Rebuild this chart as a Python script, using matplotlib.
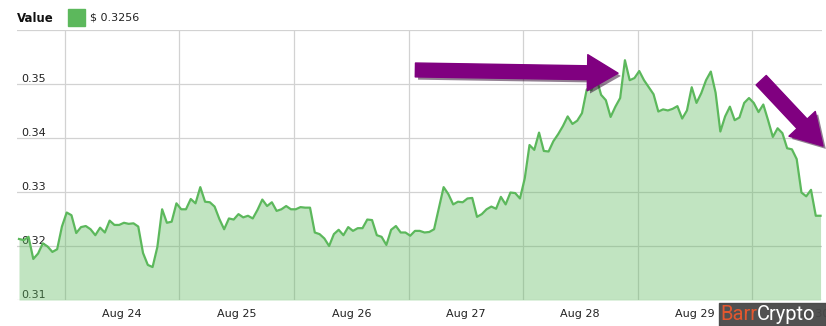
"""plot.py — hourly price area chart, Aug 24-30, with annotation arrows"""

import matplotlib
matplotlib.use("Agg")
import matplotlib.pyplot as plt
import matplotlib.patheffects as pe
from matplotlib.patches import Rectangle
import numpy as np

plt.rcParams.update({
    "font.family": ["DejaVu Sans"],
    "font.size": 8,
})

# ── Data ────────────────────────────────────────────────────────────────────

# hourly closes, first sample ~9.6 h before Aug 24 00:00
FIRST_HOUR = -9.64
VALUES = [
    0.3213, 0.3211, 0.3217, 0.3176, 0.3186, 0.3205, 0.3199, 0.3189, 0.3194, 0.3236,
    0.3262, 0.3257, 0.3224, 0.3235, 0.3237, 0.3231, 0.3220, 0.3234, 0.3225, 0.3247,
    0.3239, 0.3239, 0.3243, 0.3241, 0.3242, 0.3236, 0.3187, 0.3165, 0.3161, 0.3198,
    0.3268, 0.3243, 0.3245, 0.3279, 0.3268, 0.3268, 0.3287, 0.3279, 0.3309, 0.3282,
    0.3281, 0.3273, 0.3250, 0.3231, 0.3251, 0.3249, 0.3259, 0.3253, 0.3256, 0.3251,
    0.3267, 0.3286, 0.3274, 0.3281, 0.3265, 0.3268, 0.3274, 0.3268, 0.3268, 0.3272,
    0.3271, 0.3271, 0.3225, 0.3222, 0.3214, 0.3200, 0.3222, 0.3230, 0.3220, 0.3235,
    0.3228, 0.3233, 0.3233, 0.3249, 0.3248, 0.3220, 0.3217, 0.3202, 0.3230, 0.3237,
    0.3225, 0.3225, 0.3219, 0.3228, 0.3228, 0.3225, 0.3226, 0.3231, 0.3270, 0.3309,
    0.3296, 0.3277, 0.3282, 0.3281, 0.3288, 0.3289, 0.3254, 0.3259, 0.3268, 0.3273,
    0.3269, 0.3291, 0.3277, 0.3299, 0.3298, 0.3288, 0.3325, 0.3387, 0.3378, 0.3410,
    0.3376, 0.3375, 0.3394, 0.3407, 0.3422, 0.3440, 0.3426, 0.3432, 0.3446, 0.3490,
    0.3489, 0.3512, 0.3480, 0.3470, 0.3439, 0.3458, 0.3474, 0.3544, 0.3507, 0.3511,
    0.3524, 0.3507, 0.3494, 0.3481, 0.3449, 0.3453, 0.3451, 0.3454, 0.3459, 0.3436,
    0.3451, 0.3494, 0.3465, 0.3483, 0.3507, 0.3523, 0.3484, 0.3412, 0.3440, 0.3458,
    0.3433, 0.3438, 0.3465, 0.3474, 0.3465, 0.3448, 0.3462, 0.3433, 0.3402, 0.3418,
    0.3409, 0.3381, 0.3379, 0.3361, 0.3299, 0.3292, 0.3304, 0.3256, 0.3256,
]

DAY_LABELS = ["Aug 24", "Aug 25", "Aug 26", "Aug 27", "Aug 28", "Aug 29", "Aug 30"]
Y_TICKS = [0.31, 0.32, 0.33, 0.34, 0.35, 0.36]

# arrows: (tail, tip) in (day, price)
ARROW_FLAT = ((3.06, 0.3526), (4.83, 0.3520))
ARROW_DOWN = ((6.08, 0.3507), (6.62, 0.3385))

GREEN = "#5cb85c"
PURPLE = "#800080"
GRID = "#d2d2d2"


def main() -> None:
    W, H = 826, 326
    fig = plt.figure(figsize=(W / 100, H / 100), dpi=100)
    ax = fig.add_axes([17 / W, 26 / H, 805 / W, 270 / H])

    days = (np.arange(len(VALUES)) + FIRST_HOUR) / 24
    vals = np.array(VALUES)

    ax.fill_between(days, vals, Y_TICKS[0], color=GREEN, alpha=0.38,
                    linewidth=0, zorder=2)
    ax.plot(days, vals, color=GREEN, linewidth=1.6, zorder=3,
            solid_joinstyle="round")

    ax.set_xlim(-0.419, 6.611)
    ax.set_ylim(Y_TICKS[0], Y_TICKS[-1])

    # gridlines at midnight, labels at noon
    ax.set_xticks(np.arange(len(DAY_LABELS)))
    ax.set_xticklabels([])
    ax.set_xticks(np.arange(len(DAY_LABELS)) + 0.5, DAY_LABELS, minor=True)
    ax.tick_params(axis="x", which="both", length=0, pad=6.5, colors="#222")

    ax.set_yticks(Y_TICKS)
    ax.set_yticklabels([f"{v:.2f}" for v in Y_TICKS[:-1]] + [""])
    ax.tick_params(axis="y", length=0, pad=-3, colors="#222")
    for lbl in ax.get_yticklabels():
        lbl.set_horizontalalignment("left")
        lbl.set_verticalalignment("bottom")

    ax.grid(True, which="major", color=GRID, linewidth=0.9, zorder=1)
    ax.set_axisbelow(True)
    for spine in ax.spines.values():
        spine.set_visible(False)

    # purple arrows with drop shadow
    for tail, tip in (ARROW_FLAT, ARROW_DOWN):
        ax.annotate("", xy=tip, xytext=tail, annotation_clip=False,
                    arrowprops=dict(
                        arrowstyle="simple,head_length=1.1,head_width=1.3,tail_width=0.5",
                        mutation_scale=20, color=PURPLE, shrinkA=0, shrinkB=0,
                        path_effects=[pe.SimplePatchShadow(offset=(2, -2),
                                                           alpha=0.5),
                                      pe.Normal()]),
                    zorder=5)

    # header legend
    fig.text(17 / W, 1 - 18 / H, "Value", fontsize=8.5, fontweight="bold",
             color="#111", va="center")
    fig.patches.append(Rectangle((68 / W, 1 - 26 / H), 17 / W, 17 / H,
                                 transform=fig.transFigure, color=GREEN))
    fig.text(90 / W, 1 - 18 / H, f"$ {VALUES[-1]:.4f}", fontsize=8,
             color="#222", va="center")

    # watermark box sits over the last day label, as in the source image
    fig.patches.append(Rectangle((719 / W, 0), 107 / W, 23 / H,
                                 transform=fig.transFigure, color="#474747",
                                 alpha=0.95, zorder=10))
    barr = fig.text(720 / W, 11 / H, "Barr", fontsize=14.5, color="#e4572e",
                    family="Roboto", va="center", zorder=11)
    fig.add_artist(matplotlib.text.Annotation(
        "Crypto", xy=(1, 0.5), xycoords=barr, va="center", ha="left",
        fontsize=14.5, color="white", family="Roboto", zorder=11))

    fig.savefig("out.png", dpi=100, facecolor="white")
    plt.close(fig)


if __name__ == "__main__":
    main()
